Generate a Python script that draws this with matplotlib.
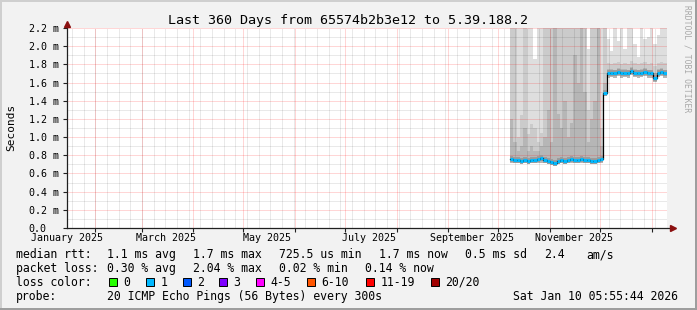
import matplotlib
matplotlib.use("Agg")
import matplotlib.pyplot as plt
from matplotlib.patches import Rectangle
import numpy as np
import pandas as pd

W, H = 697, 310
MONO = "DejaVu Sans Mono"

# time frame of the graph
t_start = pd.Timestamp("2025-01-15 05:55:44")
t_end = pd.Timestamp("2026-01-10 05:55:44")

# smokeping samples (2 day steps)
sample_t = pd.date_range("2025-10-08", periods=47, freq="2D")
step = pd.Timedelta(days=2)

median_ms = [0.76, 0.75, 0.75, 0.74, 0.75, 0.74, 0.75, 0.75, 0.76, 0.77,
             0.75, 0.74, 0.73, 0.72, 0.74, 0.75, 0.74, 0.75, 0.76, 0.75,
             0.75, 0.76, 0.75, 0.75, 0.74, 0.74, 0.75, 0.76, 1.49,
             1.70, 1.71, 1.70, 1.72, 1.70, 1.71, 1.70, 1.73, 1.71, 1.70,
             1.71, 1.72, 1.70, 1.70, 1.65, 1.71, 1.72, 1.70]
smoke_lo = [0.71, 0.71, 0.72, 0.71, 0.71, 0.70, 0.71, 0.71, 0.72, 0.72,
            0.71, 0.70, 0.69, 0.68, 0.70, 0.71, 0.70, 0.71, 0.72, 0.71,
            0.71, 0.72, 0.71, 0.71, 0.70, 0.70, 0.71, 0.72, 1.45,
            1.65, 1.66, 1.65, 1.67, 1.65, 1.66, 1.65, 1.68, 1.66, 1.65,
            1.66, 1.67, 1.65, 1.65, 1.61, 1.66, 1.67, 1.65]
smoke_inner = [1.20, 0.95, 0.85, 0.90, 1.10, 0.85, 0.90, 0.85, 0.85, 0.90,
               1.00, 1.30, 0.95, 2.30, 1.25, 1.10, 1.40, 1.00, 1.15, 1.90,
               1.60, 2.30, 1.50, 0.95, 1.20, 1.40, 2.30, 0.90, 1.60,
               1.75, 1.75, 1.74, 1.76, 1.75, 1.75, 1.74, 1.77, 1.75, 1.74,
               1.75, 1.76, 1.74, 1.74, 1.71, 1.75, 1.76, 1.74]
smoke_mid = [2.30, 2.30, 1.00, 1.24, 2.30, 1.03, 1.14, 1.10, 0.95, 1.05,
             2.30, 2.30, 2.30, 2.30, 2.30, 2.30, 2.30, 2.30, 2.30, 2.30,
             2.30, 2.30, 2.30, 1.30, 2.30, 2.30, 2.30, 1.10, 2.30,
             1.82, 1.80, 1.81, 1.83, 1.80, 1.82, 1.80, 1.84, 1.81, 1.80,
             1.82, 1.83, 1.80, 1.81, 1.78, 1.82, 1.83, 1.81]
smoke_top = [2.30, 2.30, 2.30, 2.30, 2.30, 2.30, 2.30, 1.86, 2.30, 2.30,
             2.30, 2.30, 2.30, 2.30, 2.30, 2.30, 2.30, 2.30, 2.30, 2.30,
             2.30, 2.30, 2.30, 1.97, 2.30, 2.30, 2.30, 2.30, 2.30,
             2.08, 1.95, 2.30, 2.06, 2.30, 1.97, 2.30, 2.30, 2.02, 1.88,
             2.30, 2.08, 2.10, 2.30, 2.02, 2.12, 2.30, 2.30]

month_labels = ["January 2025", "March 2025", "May 2025", "July 2025",
                "September 2025", "November 2025"]
label_t = pd.to_datetime(["2025-01-15 12:00", "2025-03-15 12:00", "2025-05-15 12:00",
                          "2025-07-15 12:00", "2025-09-15 12:00", "2025-11-15 12:00"])

loss_names = ["0", "1", "2", "3", "4-5", "6-10", "11-19", "20/20"]
loss_colors = ["#26ff00", "#00b8ff", "#0059ff", "#7e00ff", "#ff00ff",
               "#ff5500", "#ff0000", "#a10000"]
loss_box_x = [108.5, 146, 182.5, 219, 256, 307, 366, 431]

fig = plt.figure(figsize=(W / 100, H / 100), dpi=100, facecolor="#f2f2f2")
ax = fig.add_axes([67 / W, (H - 228) / H, 600 / W, 200 / H])
ax.set_facecolor("white")
for s in ax.spines.values():
    s.set_visible(False)

# smoke
lo = np.array(smoke_lo)
for hi, col in [(smoke_top, "#dedede"), (smoke_mid, "#cbcbcb"), (smoke_inner, "#b6b6b6")]:
    ax.bar(sample_t, np.array(hi) - lo, bottom=lo, width=2, align="edge",
           color=col, linewidth=0, zorder=2)

# grid (dotted)
grid_kw = dict(lw=0.72, ls=(0, (1, 1)), zorder=3)
minor_c = (0, 0, 0, 0.17)
major_c = (1, 0, 0, 0.32)
for d in pd.date_range(t_start, t_end, freq="W-SAT"):
    ax.axvline(d, color=minor_c, **grid_kw)
for v in np.arange(0.1, 2.25, 0.2):
    ax.axhline(v, color=minor_c, **grid_kw)
month_starts = pd.date_range("2025-02-01", t_end, freq="MS")
for d in month_starts:
    ax.axvline(d, color=major_c, **grid_kw)
for v in np.arange(0.2, 2.25, 0.2):
    ax.axhline(v, color=major_c, **grid_kw)

# median with loss colour
ends = sample_t + step
ax.hlines(median_ms, sample_t, ends, color="#9a9a9a", lw=4.2, zorder=4)
ax.step(list(sample_t) + [ends[-1]], median_ms + [median_ms[-1]], where="post",
        color="black", lw=0.9, zorder=5)
ax.hlines(median_ms, sample_t, ends, color="#00b8ff", lw=2.2, zorder=6)

ax.set_xlim(t_start, t_end)
ax.set_ylim(0, 2.2)

# axes with arrows
ax.plot([0, 1.005], [0, 0], transform=ax.transAxes, color="#202020", lw=0.9,
        clip_on=False, zorder=7)
ax.plot([0, 0], [0, 1.012], transform=ax.transAxes, color="#202020", lw=0.9,
        clip_on=False, zorder=7)
ax.plot([1.01], [0], transform=ax.transAxes, marker=">", ms=4.5, color="#8b1010",
        clip_on=False, zorder=8)
ax.plot([0], [1.02], transform=ax.transAxes, marker="^", ms=4.5, color="#8b1010",
        clip_on=False, zorder=8)

# ticks
yt = np.round(np.arange(0, 2.21, 0.2), 1)
ax.set_yticks(yt)
ax.set_yticklabels(["0.0"] + [f"{v:.1f} m" for v in yt[1:]], family=MONO, fontsize=7.2)
for lbl in ax.get_yticklabels():
    lbl.set_horizontalalignment("left")
ax.tick_params(axis="y", length=3, width=0.8, color="#202020", pad=34 * 0.72)
ax.set_xticks(label_t)
ax.set_xticklabels(month_labels, family=MONO, fontsize=7.2)
ax.set_xticks(month_starts, minor=True)
ax.tick_params(axis="x", which="major", length=0, pad=3.6)
ax.tick_params(axis="x", which="minor", length=3, width=0.8, color="#202020")

# texts
fig.text(0.5, 1 - 24 / H, "Last 360 Days from 65574b2b3e12 to 5.39.188.2",
         ha="center", va="baseline", family=MONO, fontsize=9.6)
fig.text(11 / W, 1 - 127.5 / H, "Seconds", rotation=90, ha="center", va="center",
         family=MONO, fontsize=8)
fig.text(687 / W, 1 - 58.5 / H, "RRDTOOL / TOBI OETIKER", rotation=270,
         ha="center", va="center", family=MONO, fontsize=5.8, color="#a8a8a8")


def legend_text(x, y, s):
    fig.text(x / W, 1 - y / H, s, ha="left", va="baseline", family=MONO, fontsize=8.3)


legend_text(16, 258, "median rtt:")
for x, s in [(107.3, "1.1 ms avg"), (193.3, "1.7 ms max"), (279.3, "725.5 us min"),
             (379.3, "1.7 ms now"), (465.3, "0.5 ms sd"), (544, "2.4"), (586, "am/s")]:
    legend_text(x, 258, s)
legend_text(16, 272, "packet loss:")
for x, s in [(107.3, "0.30 % avg"), (193.3, "2.04 % max"), (279.3, "0.02 % min"),
             (365, "0.14 % now")]:
    legend_text(x, 272, s)
legend_text(16, 285.7, "loss color:")
for bx, name, col in zip(loss_box_x, loss_names, loss_colors):
    fig.add_artist(Rectangle((bx / W, 1 - 286 / H), 8 / W, 8.5 / H,
                             transform=fig.transFigure, facecolor=col,
                             edgecolor="black", lw=0.7))
    legend_text(bx + 14.3, 285.7, name)
legend_text(16, 300, "probe:")
legend_text(107.3, 300, "20 ICMP Echo Pings (56 Bytes) every 300s")
legend_text(513.3, 300, "Sat Jan 10 05:55:44 2026")

# 3d frame
fig.add_artist(Rectangle((0, 0), 2 / W, 1, transform=fig.transFigure, color="#cfcfcf", lw=0))
fig.add_artist(Rectangle((0, 1 - 2 / H), 1, 2 / H, transform=fig.transFigure, color="#cfcfcf", lw=0))
fig.add_artist(Rectangle((0, 0), 1, 2 / H, transform=fig.transFigure, color="#9e9e9e", lw=0))
fig.add_artist(Rectangle((1 - 2 / W, 0), 2 / W, 1, transform=fig.transFigure, color="#9e9e9e", lw=0))

fig.savefig("out.png", dpi=100, facecolor=fig.get_facecolor())
